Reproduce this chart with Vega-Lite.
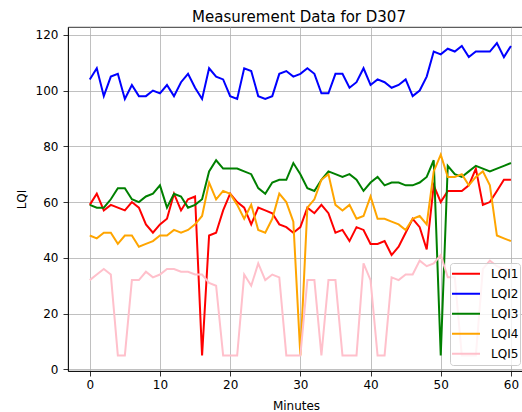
{
  "$schema": "https://vega.github.io/schema/vega-lite/v6.json",
  "width": 456,
  "height": 344,
  "autosize": {"type": "none"},
  "padding": {"left": 68, "top": 27, "right": 0, "bottom": 41},
  "background": "white",
  "title": {"text": "Measurement Data for D307", "fontSize": 15, "fontWeight": "normal", "font": "DejaVu Sans", "color": "#000", "baseline": "alphabetic", "frame": "group", "offset": 6, "dx": 3, "dy": 16},
  "config": {
    "font": "DejaVu Sans",
    "view": {"stroke": "#000", "strokeWidth": 0.8},
    "axis": {
      "domainColor": "#000", "domainWidth": 0.8,
      "tickColor": "#000", "tickWidth": 0.8, "tickSize": 5,
      "gridColor": "#b0b0b0", "gridWidth": 0.8,
      "labelFontSize": 12, "labelColor": "#000",
      "titleFontSize": 12, "titleFontWeight": "normal", "titleColor": "#000"
    }
  },
  "datasets": {
    "lqi": [
{"m":0,"s":"LQI1","v":59},{"m":1,"s":"LQI1","v":63},{"m":2,"s":"LQI1","v":57},{"m":3,"s":"LQI1","v":59},{"m":4,"s":"LQI1","v":58},{"m":5,"s":"LQI1","v":57},{"m":6,"s":"LQI1","v":60},{"m":7,"s":"LQI1","v":58},{"m":8,"s":"LQI1","v":52},{"m":9,"s":"LQI1","v":49},
{"m":10,"s":"LQI1","v":52},{"m":11,"s":"LQI1","v":54},{"m":12,"s":"LQI1","v":63},{"m":13,"s":"LQI1","v":57},{"m":14,"s":"LQI1","v":61},{"m":15,"s":"LQI1","v":62},{"m":16,"s":"LQI1","v":5},{"m":17,"s":"LQI1","v":48},{"m":18,"s":"LQI1","v":49},{"m":19,"s":"LQI1","v":57},
{"m":20,"s":"LQI1","v":63},{"m":21,"s":"LQI1","v":60},{"m":22,"s":"LQI1","v":58},{"m":23,"s":"LQI1","v":52},{"m":24,"s":"LQI1","v":58},{"m":25,"s":"LQI1","v":57},{"m":26,"s":"LQI1","v":56},{"m":27,"s":"LQI1","v":52},{"m":28,"s":"LQI1","v":51},{"m":29,"s":"LQI1","v":49},
{"m":30,"s":"LQI1","v":51},{"m":31,"s":"LQI1","v":58},{"m":32,"s":"LQI1","v":56},{"m":33,"s":"LQI1","v":59},{"m":34,"s":"LQI1","v":56},{"m":35,"s":"LQI1","v":49},{"m":36,"s":"LQI1","v":50},{"m":37,"s":"LQI1","v":46},{"m":38,"s":"LQI1","v":51},{"m":39,"s":"LQI1","v":50},
{"m":40,"s":"LQI1","v":45},{"m":41,"s":"LQI1","v":45},{"m":42,"s":"LQI1","v":46},{"m":43,"s":"LQI1","v":41},{"m":44,"s":"LQI1","v":44},{"m":45,"s":"LQI1","v":49},{"m":46,"s":"LQI1","v":54},{"m":47,"s":"LQI1","v":51},{"m":48,"s":"LQI1","v":43},{"m":49,"s":"LQI1","v":66},
{"m":50,"s":"LQI1","v":60},{"m":51,"s":"LQI1","v":64},{"m":52,"s":"LQI1","v":64},{"m":53,"s":"LQI1","v":64},{"m":54,"s":"LQI1","v":66},{"m":55,"s":"LQI1","v":72},{"m":56,"s":"LQI1","v":59},{"m":57,"s":"LQI1","v":60},{"m":58,"s":"LQI1","v":64},{"m":59,"s":"LQI1","v":68},{"m":60,"s":"LQI1","v":68},
{"m":0,"s":"LQI2","v":104},{"m":1,"s":"LQI2","v":108},{"m":2,"s":"LQI2","v":98},{"m":3,"s":"LQI2","v":105},{"m":4,"s":"LQI2","v":106},{"m":5,"s":"LQI2","v":97},{"m":6,"s":"LQI2","v":102},{"m":7,"s":"LQI2","v":98},{"m":8,"s":"LQI2","v":98},{"m":9,"s":"LQI2","v":100},
{"m":10,"s":"LQI2","v":99},{"m":11,"s":"LQI2","v":102},{"m":12,"s":"LQI2","v":98},{"m":13,"s":"LQI2","v":103},{"m":14,"s":"LQI2","v":106},{"m":15,"s":"LQI2","v":101},{"m":16,"s":"LQI2","v":97},{"m":17,"s":"LQI2","v":108},{"m":18,"s":"LQI2","v":105},{"m":19,"s":"LQI2","v":104},
{"m":20,"s":"LQI2","v":98},{"m":21,"s":"LQI2","v":97},{"m":22,"s":"LQI2","v":108},{"m":23,"s":"LQI2","v":107},{"m":24,"s":"LQI2","v":98},{"m":25,"s":"LQI2","v":97},{"m":26,"s":"LQI2","v":98},{"m":27,"s":"LQI2","v":106},{"m":28,"s":"LQI2","v":107},{"m":29,"s":"LQI2","v":105},
{"m":30,"s":"LQI2","v":106},{"m":31,"s":"LQI2","v":108},{"m":32,"s":"LQI2","v":106},{"m":33,"s":"LQI2","v":99},{"m":34,"s":"LQI2","v":99},{"m":35,"s":"LQI2","v":106},{"m":36,"s":"LQI2","v":106},{"m":37,"s":"LQI2","v":101},{"m":38,"s":"LQI2","v":103},{"m":39,"s":"LQI2","v":108},
{"m":40,"s":"LQI2","v":102},{"m":41,"s":"LQI2","v":104},{"m":42,"s":"LQI2","v":103},{"m":43,"s":"LQI2","v":101},{"m":44,"s":"LQI2","v":102},{"m":45,"s":"LQI2","v":104},{"m":46,"s":"LQI2","v":98},{"m":47,"s":"LQI2","v":100},{"m":48,"s":"LQI2","v":105},{"m":49,"s":"LQI2","v":114},
{"m":50,"s":"LQI2","v":113},{"m":51,"s":"LQI2","v":115},{"m":52,"s":"LQI2","v":114},{"m":53,"s":"LQI2","v":116},{"m":54,"s":"LQI2","v":112},{"m":55,"s":"LQI2","v":114},{"m":56,"s":"LQI2","v":114},{"m":57,"s":"LQI2","v":114},{"m":58,"s":"LQI2","v":117},{"m":59,"s":"LQI2","v":112},{"m":60,"s":"LQI2","v":116},
{"m":0,"s":"LQI3","v":59},{"m":1,"s":"LQI3","v":58},{"m":2,"s":"LQI3","v":58},{"m":3,"s":"LQI3","v":61},{"m":4,"s":"LQI3","v":65},{"m":5,"s":"LQI3","v":65},{"m":6,"s":"LQI3","v":61},{"m":7,"s":"LQI3","v":60},{"m":8,"s":"LQI3","v":62},{"m":9,"s":"LQI3","v":63},
{"m":10,"s":"LQI3","v":66},{"m":11,"s":"LQI3","v":58},{"m":12,"s":"LQI3","v":63},{"m":13,"s":"LQI3","v":62},{"m":14,"s":"LQI3","v":58},{"m":15,"s":"LQI3","v":59},{"m":16,"s":"LQI3","v":61},{"m":17,"s":"LQI3","v":71},{"m":18,"s":"LQI3","v":75},{"m":19,"s":"LQI3","v":72},
{"m":20,"s":"LQI3","v":72},{"m":21,"s":"LQI3","v":72},{"m":22,"s":"LQI3","v":71},{"m":23,"s":"LQI3","v":70},{"m":24,"s":"LQI3","v":65},{"m":25,"s":"LQI3","v":63},{"m":26,"s":"LQI3","v":67},{"m":27,"s":"LQI3","v":68},{"m":28,"s":"LQI3","v":68},{"m":29,"s":"LQI3","v":74},
{"m":30,"s":"LQI3","v":70},{"m":31,"s":"LQI3","v":65},{"m":32,"s":"LQI3","v":64},{"m":33,"s":"LQI3","v":68},{"m":34,"s":"LQI3","v":71},{"m":35,"s":"LQI3","v":70},{"m":36,"s":"LQI3","v":69},{"m":37,"s":"LQI3","v":70},{"m":38,"s":"LQI3","v":68},{"m":39,"s":"LQI3","v":64},
{"m":40,"s":"LQI3","v":67},{"m":41,"s":"LQI3","v":69},{"m":42,"s":"LQI3","v":66},{"m":43,"s":"LQI3","v":67},{"m":44,"s":"LQI3","v":67},{"m":45,"s":"LQI3","v":66},{"m":46,"s":"LQI3","v":66},{"m":47,"s":"LQI3","v":67},{"m":48,"s":"LQI3","v":69},{"m":49,"s":"LQI3","v":75},
{"m":50,"s":"LQI3","v":5},{"m":51,"s":"LQI3","v":73},{"m":52,"s":"LQI3","v":70},{"m":53,"s":"LQI3","v":69},{"m":54,"s":"LQI3","v":71},{"m":55,"s":"LQI3","v":73},{"m":56,"s":"LQI3","v":72},{"m":57,"s":"LQI3","v":71},{"m":58,"s":"LQI3","v":72},{"m":59,"s":"LQI3","v":73},{"m":60,"s":"LQI3","v":74},
{"m":0,"s":"LQI4","v":48},{"m":1,"s":"LQI4","v":47},{"m":2,"s":"LQI4","v":49},{"m":3,"s":"LQI4","v":49},{"m":4,"s":"LQI4","v":45},{"m":5,"s":"LQI4","v":48},{"m":6,"s":"LQI4","v":48},{"m":7,"s":"LQI4","v":44},{"m":8,"s":"LQI4","v":45},{"m":9,"s":"LQI4","v":46},
{"m":10,"s":"LQI4","v":48},{"m":11,"s":"LQI4","v":48},{"m":12,"s":"LQI4","v":50},{"m":13,"s":"LQI4","v":49},{"m":14,"s":"LQI4","v":50},{"m":15,"s":"LQI4","v":52},{"m":16,"s":"LQI4","v":55},{"m":17,"s":"LQI4","v":67},{"m":18,"s":"LQI4","v":61},{"m":19,"s":"LQI4","v":64},
{"m":20,"s":"LQI4","v":63},{"m":21,"s":"LQI4","v":59},{"m":22,"s":"LQI4","v":54},{"m":23,"s":"LQI4","v":59},{"m":24,"s":"LQI4","v":50},{"m":25,"s":"LQI4","v":49},{"m":26,"s":"LQI4","v":54},{"m":27,"s":"LQI4","v":63},{"m":28,"s":"LQI4","v":60},{"m":29,"s":"LQI4","v":53},
{"m":30,"s":"LQI4","v":5},{"m":31,"s":"LQI4","v":58},{"m":32,"s":"LQI4","v":61},{"m":33,"s":"LQI4","v":68},{"m":34,"s":"LQI4","v":70},{"m":35,"s":"LQI4","v":59},{"m":36,"s":"LQI4","v":57},{"m":37,"s":"LQI4","v":59},{"m":38,"s":"LQI4","v":54},{"m":39,"s":"LQI4","v":55},
{"m":40,"s":"LQI4","v":62},{"m":41,"s":"LQI4","v":54},{"m":42,"s":"LQI4","v":54},{"m":43,"s":"LQI4","v":53},{"m":44,"s":"LQI4","v":52},{"m":45,"s":"LQI4","v":50},{"m":46,"s":"LQI4","v":54},{"m":47,"s":"LQI4","v":55},{"m":48,"s":"LQI4","v":52},{"m":49,"s":"LQI4","v":71},
{"m":50,"s":"LQI4","v":77},{"m":51,"s":"LQI4","v":69},{"m":52,"s":"LQI4","v":69},{"m":53,"s":"LQI4","v":70},{"m":54,"s":"LQI4","v":66},{"m":55,"s":"LQI4","v":69},{"m":56,"s":"LQI4","v":71},{"m":57,"s":"LQI4","v":66},{"m":58,"s":"LQI4","v":48},{"m":59,"s":"LQI4","v":47},{"m":60,"s":"LQI4","v":46},
{"m":0,"s":"LQI5","v":32},{"m":1,"s":"LQI5","v":34},{"m":2,"s":"LQI5","v":36},{"m":3,"s":"LQI5","v":34},{"m":4,"s":"LQI5","v":5},{"m":5,"s":"LQI5","v":5},{"m":6,"s":"LQI5","v":32},{"m":7,"s":"LQI5","v":32},{"m":8,"s":"LQI5","v":35},{"m":9,"s":"LQI5","v":33},
{"m":10,"s":"LQI5","v":34},{"m":11,"s":"LQI5","v":36},{"m":12,"s":"LQI5","v":36},{"m":13,"s":"LQI5","v":35},{"m":14,"s":"LQI5","v":35},{"m":15,"s":"LQI5","v":34},{"m":16,"s":"LQI5","v":34},{"m":17,"s":"LQI5","v":31},{"m":18,"s":"LQI5","v":30},{"m":19,"s":"LQI5","v":5},
{"m":20,"s":"LQI5","v":5},{"m":21,"s":"LQI5","v":5},{"m":22,"s":"LQI5","v":34},{"m":23,"s":"LQI5","v":30},{"m":24,"s":"LQI5","v":38},{"m":25,"s":"LQI5","v":32},{"m":26,"s":"LQI5","v":34},{"m":27,"s":"LQI5","v":33},{"m":28,"s":"LQI5","v":5},{"m":29,"s":"LQI5","v":5},
{"m":30,"s":"LQI5","v":5},{"m":31,"s":"LQI5","v":32},{"m":32,"s":"LQI5","v":32},{"m":33,"s":"LQI5","v":5},{"m":34,"s":"LQI5","v":32},{"m":35,"s":"LQI5","v":32},{"m":36,"s":"LQI5","v":5},{"m":37,"s":"LQI5","v":5},{"m":38,"s":"LQI5","v":5},{"m":39,"s":"LQI5","v":38},
{"m":40,"s":"LQI5","v":32},{"m":41,"s":"LQI5","v":5},{"m":42,"s":"LQI5","v":5},{"m":43,"s":"LQI5","v":33},{"m":44,"s":"LQI5","v":32},{"m":45,"s":"LQI5","v":34},{"m":46,"s":"LQI5","v":34},{"m":47,"s":"LQI5","v":39},{"m":48,"s":"LQI5","v":37},{"m":49,"s":"LQI5","v":38},
{"m":50,"s":"LQI5","v":41},{"m":51,"s":"LQI5","v":33},{"m":52,"s":"LQI5","v":33},{"m":53,"s":"LQI5","v":5},{"m":54,"s":"LQI5","v":5},{"m":55,"s":"LQI5","v":5},{"m":56,"s":"LQI5","v":36},{"m":57,"s":"LQI5","v":39},{"m":58,"s":"LQI5","v":37},{"m":59,"s":"LQI5","v":36},{"m":60,"s":"LQI5","v":36}
    ]
  },
  "data": {"name": "lqi"},
  "mark": {"type": "line", "strokeWidth": 2, "clip": true},
  "encoding": {
    "x": {"field": "m", "type": "quantitative", "title": "Minutes",
      "scale": {"domain": [-3.1, 61.86], "nice": false, "zero": false},
      "axis": {"values": [0, 10, 20, 30, 40, 50, 60], "labelPadding": 3, "titlePadding": 10, "labelFlush": false}},
    "y": {"field": "v", "type": "quantitative", "title": "LQI",
      "scale": {"domain": [-0.6, 122.8], "nice": false, "zero": false},
      "axis": {"values": [0, 20, 40, 60, 80, 100, 120], "labelPadding": 5, "titlePadding": 7, "labelFlush": false}},
    "color": {"field": "s", "type": "nominal", "title": null,
      "scale": {"domain": ["LQI1", "LQI2", "LQI3", "LQI4", "LQI5"], "range": ["#ff0000", "#0000ff", "#008000", "#ffa500", "#ffc0cb"]},
      "legend": {"orient": "none", "legendX": 382, "legendY": 236, "symbolType": "stroke", "symbolSize": 784, "symbolStrokeWidth": 2,
        "clipHeight": 19.7, "rowPadding": 0, "padding": 1, "labelFontSize": 12, "labelOffset": 10, "labelColor": "#000",
        "fillColor": "rgba(255,255,255,0.8)", "strokeColor": "#cccccc", "cornerRadius": 3}}
  }
}
